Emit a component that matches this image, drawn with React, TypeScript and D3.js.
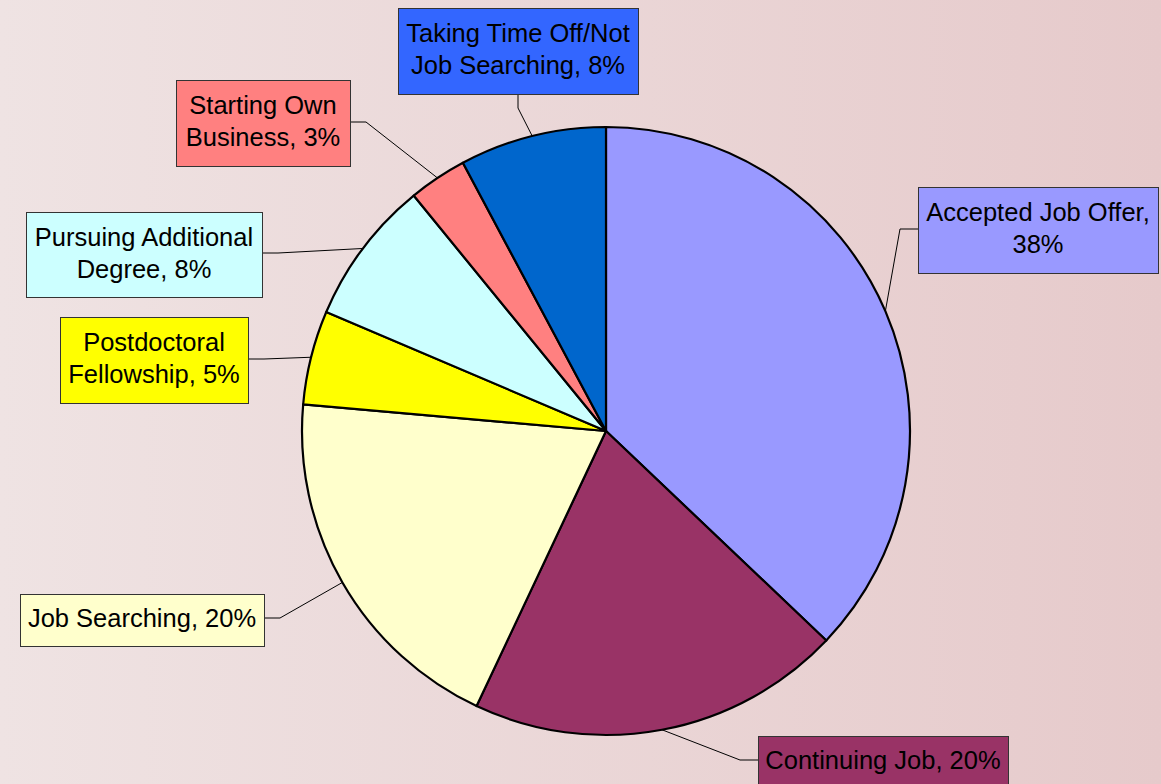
import { pie as d3pie, arc as d3arc } from "d3";

const categories = [
  "Accepted Job Offer",
  "Continuing Job",
  "Job Searching",
  "Postdoctoral Fellowship",
  "Pursuing Additional Degree",
  "Starting Own Business",
  "Taking Time Off/Not Job Searching",
];

// slice sizes (percent of the circle)
const values = [37.1, 19.9, 19.4, 5.0, 7.7, 3.1, 7.8];

// label text as printed on the chart
const labelLines = [
  ["Accepted Job Offer,", "38%"],
  ["Continuing Job, 20%"],
  ["Job Searching, 20%"],
  ["Postdoctoral", "Fellowship, 5%"],
  ["Pursuing Additional", "Degree, 8%"],
  ["Starting Own", "Business, 3%"],
  ["Taking Time Off/Not", "Job Searching, 8%"],
];

const sliceColors = ["#9999ff", "#993366", "#ffffcc", "#ffff00", "#ccffff", "#ff8080", "#0066cc"];
const boxColors = ["#9999ff", "#993366", "#ffffcc", "#ffff00", "#ccffff", "#ff8080", "#3366ff"];

// label box placement and leader elbow
const labelBoxes = [
  { x: 918, y: 187, w: 240, h: 86, elbow: [900, 229] },
  { x: 758, y: 736, w: 250, h: 52, elbow: [740, 760] },
  { x: 20, y: 594, w: 244, h: 52, elbow: [280, 618] },
  { x: 60, y: 317, w: 188, h: 86, elbow: [264, 359] },
  { x: 26, y: 212, w: 236, h: 85, elbow: [278, 253] },
  { x: 176, y: 80, w: 174, h: 86, elbow: [366, 122] },
  { x: 398, y: 8, w: 240, h: 86, elbow: [518, 108] },
];

const width = 1161;
const height = 784;
const cx = 606;
const cy = 431;
const radius = 304;

export default function App() {
  const data = categories.map((c, i) => ({ name: c, value: values[i], i }));
  const arcs = d3pie<(typeof data)[number]>()
    .sort(null)
    .value((d) => d.value)(data);

  const arc = d3arc<any>().innerRadius(0).outerRadius(radius);
  const rim = d3arc<any>().innerRadius(radius).outerRadius(radius);

  return (
    <svg
      width={width}
      height={height}
      style={{ position: "absolute", left: 0, top: 0 }}
      fontFamily="'Liberation Sans', Arial, sans-serif"
    >
      <defs>
        <linearGradient id="bg" x1="0" x2="1" y1="0" y2="0">
          <stop offset="0%" stopColor="#efe3e3" />
          <stop offset="100%" stopColor="#e6cacb" />
        </linearGradient>
      </defs>
      <rect width={width} height={height} fill="url(#bg)" />

      {/* Slices */}
      <g transform={`translate(${cx},${cy})`}>
        {arcs.map((a) => (
          <path
            key={a.data.name}
            d={arc(a) ?? undefined}
            fill={sliceColors[a.index]}
            stroke="#000"
            strokeWidth={2.2}
            strokeLinejoin="round"
          />
        ))}
      </g>

      {/* Leader lines */}
      {arcs.map((a) => {
        const b = labelBoxes[a.index];
        const [px, py] = rim.centroid(a);
        const [ex, ey] = b.elbow;
        let bx: number;
        let by: number;
        if (ey > b.y + b.h) {
          bx = ex;
          by = b.y + b.h;
        } else {
          by = ey;
          bx = ex < b.x ? b.x : b.x + b.w;
        }
        return (
          <polyline
            key={a.data.name}
            points={`${cx + px},${cy + py} ${ex},${ey} ${bx},${by}`}
            fill="none"
            stroke="#000"
            strokeWidth={1}
          />
        );
      })}

      {/* Label boxes */}
      {arcs.map((a) => {
        const b = labelBoxes[a.index];
        const lines = labelLines[a.index];
        const mid = b.y + b.h / 2 - 2;
        return (
          <g key={a.data.name}>
            <rect
              x={b.x + 0.5}
              y={b.y + 0.5}
              width={b.w}
              height={b.h}
              fill={boxColors[a.index]}
              stroke="#333"
              strokeWidth={1}
            />
            {lines.map((t, k) => (
              <text
                key={k}
                x={b.x + b.w / 2}
                y={mid + (k - (lines.length - 1) / 2) * 32}
                textAnchor="middle"
                dominantBaseline="central"
                fontSize={25.5}
                fill="#000"
              >
                {t}
              </text>
            ))}
          </g>
        );
      })}
    </svg>
  );
}
